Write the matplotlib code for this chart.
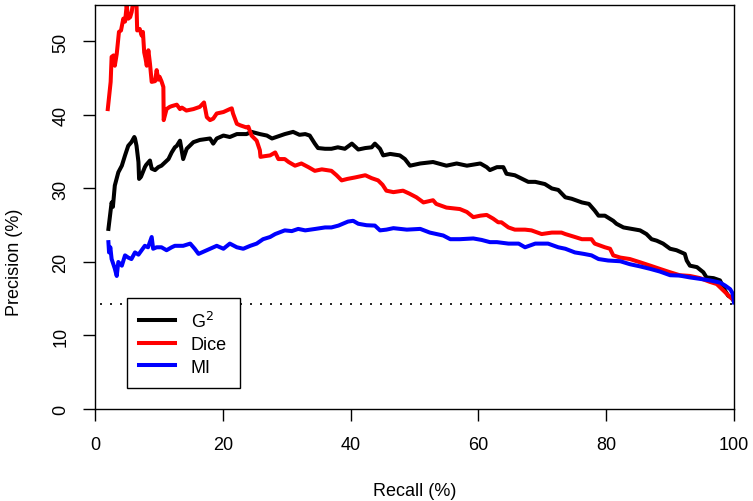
import matplotlib
matplotlib.use("Agg")
import matplotlib.pyplot as plt
from matplotlib.lines import Line2D

plt.rcParams['font.family'] = ['Liberation Sans', 'DejaVu Sans']

g2_recall = [2.1, 2.35, 2.6, 2.8, 3.1, 3.65, 4.2, 4.7, 5.2, 5.7, 6.15, 6.26, 6.5, 6.8, 6.9, 7.2, 7.8, 8.0,
             8.6, 8.87, 9.4, 9.9, 10.4, 11.5, 12.0, 12.5, 12.8, 13.3, 13.8, 14.35, 15.4, 16.4, 18.0, 18.5,
             19.05, 20.1, 21.1, 22.2, 23.7, 24.5, 25.8, 26.9, 27.7, 29.7, 31.0, 32.0, 32.9, 33.6, 34.4,
             34.9, 36.0, 37.0, 38.0, 39.1, 40.2, 41.2, 42.3, 43.3, 43.8, 44.6, 45.1, 46.2, 47.7, 48.5,
             49.3, 50.9, 52.9, 55.0, 56.6, 58.2, 60.3, 61.3, 61.8, 62.9, 63.9, 64.4, 65.7, 67.8, 68.9,
             70.4, 71.5, 72.5, 73.6, 74.6, 76.2, 77.3, 78.2, 78.8, 79.8, 81.1, 81.6, 82.7, 85.3, 86.3,
             87.1, 87.9, 88.9, 90.0, 91.0, 92.3, 92.6, 93.1, 94.2, 95.2, 95.7, 96.8, 97.8, 98.6, 99.1,
             99.6, 100.0]
g2_prec = [24.5, 26.3, 28.1, 27.5, 30.4, 32.2, 33.1, 34.5, 35.8, 36.3, 37.0, 36.8, 35.8, 33.6, 31.3, 31.6,
           32.9, 33.2, 33.8, 32.7, 32.5, 32.9, 33.1, 34.0, 34.9, 35.6, 35.8, 36.5, 34.0, 35.4, 36.3, 36.6,
           36.8, 36.1, 36.8, 37.2, 37.0, 37.4, 37.4, 37.7, 37.4, 37.2, 36.8, 37.4, 37.7, 37.3, 37.4, 37.2,
           36.1, 35.5, 35.4, 35.4, 35.6, 35.4, 36.1, 35.3, 35.5, 35.6, 36.1, 35.4, 34.5, 34.7, 34.5, 34.0,
           33.1, 33.4, 33.6, 33.1, 33.4, 33.1, 33.4, 32.9, 32.5, 32.9, 32.9, 32.0, 31.8, 30.9, 30.9, 30.6,
           30.0, 29.8, 28.8, 28.6, 28.1, 27.9, 27.0, 26.3, 26.3, 25.6, 25.2, 24.7, 24.3, 23.8, 23.1, 22.9,
           22.5, 21.8, 21.6, 21.1, 20.2, 19.5, 19.3, 18.6, 17.9, 17.8, 17.5, 16.1, 15.4, 15.2, 14.6]

dice_recall = [2.0, 2.45, 2.6, 2.9, 3.1, 3.4, 3.75, 4.07, 4.43, 4.7, 4.96, 5.2, 5.5, 5.74, 6.0, 6.2, 6.5,
               6.6, 7.0, 7.3, 7.5, 7.7, 7.9, 8.1, 8.35, 8.6, 8.87, 9.4, 9.65, 9.9, 10.1, 10.4, 10.7, 10.75,
               10.9, 11.2, 11.7, 12.0, 12.8, 13.3, 13.6, 14.3, 15.4, 16.4, 17.06, 17.5, 18.0, 18.5, 19.05,
               20.1, 21.1, 21.4, 21.6, 22.2, 22.7, 23.7, 24.0, 24.5, 25.3, 25.8, 25.9, 26.6, 27.4, 28.2,
               28.7, 29.7, 30.3, 31.3, 32.3, 33.4, 34.4, 35.5, 37.0, 37.8, 38.6, 39.5, 40.7, 42.3, 43.3,
               44.3, 45.0, 45.6, 46.7, 48.2, 49.2, 50.3, 51.4, 52.9, 53.4, 55.0, 57.1, 58.2, 59.2, 60.3,
               61.3, 62.3, 63.1, 63.6, 64.7, 65.7, 67.3, 68.3, 69.9, 71.5, 73.0, 73.6, 75.1, 76.2, 77.7,
               78.2, 79.8, 80.6, 81.1, 82.2, 83.7, 85.3, 86.9, 88.4, 90.0, 91.5, 93.1, 94.7, 96.2, 97.3,
               98.6, 99.4, 100.0]
dice_prec = [40.8, 44.5, 47.9, 48.1, 46.7, 48.3, 51.3, 51.5, 53.1, 52.7, 54.9, 53.1, 53.3, 54.0, 55.5,
             55.8, 54.9, 51.5, 51.7, 50.8, 51.3, 48.5, 47.7, 46.7, 48.8, 47.0, 44.5, 44.6, 46.1, 44.8, 45.2,
             44.6, 43.8, 39.3, 39.8, 40.8, 41.1, 41.2, 41.4, 40.8, 41.0, 40.6, 40.8, 41.1, 41.7, 39.7, 39.3,
             39.5, 40.2, 40.4, 40.8, 40.9, 40.2, 38.8, 38.6, 38.3, 38.4, 37.2, 36.5, 35.2, 34.3, 34.4, 34.5,
             34.9, 34.0, 34.0, 33.6, 33.1, 33.4, 32.9, 32.4, 32.6, 32.4, 31.8, 31.1, 31.3, 31.5, 31.8, 31.4,
             31.1, 30.5, 29.7, 29.5, 29.7, 29.3, 28.8, 28.1, 28.4, 27.9, 27.4, 27.2, 26.8, 26.1, 26.3, 26.4,
             25.9, 25.4, 25.4, 24.7, 24.4, 24.4, 24.3, 23.8, 24.0, 24.0, 23.8, 23.4, 23.1, 23.1, 22.5, 22.0,
             21.8, 20.9, 20.6, 20.4, 19.96, 19.5, 19.06, 18.6, 18.2, 18.1, 17.8, 17.3, 17.0, 15.9, 15.2, 14.8]

mi_recall = [2.1, 2.2, 2.4, 2.6, 3.1, 3.4, 3.65, 4.2, 4.7, 5.2, 5.7, 6.26, 6.8, 7.3, 7.8, 8.3, 8.87, 9.1,
             9.65, 10.4, 11.2, 12.0, 12.5, 13.8, 14.9, 15.6, 16.2, 17.5, 19.05, 20.1, 21.1, 22.2, 23.2,
             24.3, 25.3, 26.3, 27.4, 28.2, 29.7, 30.8, 31.8, 32.9, 34.5, 36.0, 37.0, 38.1, 39.6, 40.4,
             41.2, 42.5, 43.8, 44.6, 45.6, 46.7, 48.8, 50.9, 52.4, 54.5, 55.6, 57.1, 59.2, 60.5, 61.8,
             62.9, 64.7, 66.3, 67.3, 68.9, 70.9, 72.5, 73.6, 75.1, 76.5, 77.7, 78.8, 80.3, 82.2, 83.7,
             85.3, 86.9, 88.4, 90.0, 91.5, 93.1, 94.7, 96.2, 97.8, 98.6, 99.4, 99.8, 100.0]
mi_prec = [22.7, 21.3, 22.0, 20.4, 19.1, 18.1, 20.0, 19.5, 20.9, 20.6, 20.4, 21.3, 21.0, 21.6, 22.2, 22.0,
           23.4, 21.8, 22.0, 22.0, 21.6, 22.0, 22.2, 22.2, 22.5, 21.8, 21.1, 21.6, 22.2, 21.8, 22.5, 22.0,
           21.8, 22.2, 22.5, 23.1, 23.4, 23.8, 24.3, 24.2, 24.5, 24.3, 24.5, 24.7, 24.7, 24.95, 25.5, 25.6,
           25.2, 25.0, 24.95, 24.3, 24.4, 24.6, 24.4, 24.5, 24.0, 23.6, 23.1, 23.1, 23.2, 23.0, 22.7, 22.7,
           22.5, 22.5, 22.0, 22.5, 22.5, 22.0, 21.8, 21.3, 21.1, 20.9, 20.4, 20.2, 20.1, 19.7, 19.4, 19.06,
           18.7, 18.2, 18.15, 17.9, 17.7, 17.5, 17.2, 16.8, 16.3, 15.7, 14.5]

baseline = 14.3
x_ticks = [0, 20, 40, 60, 80, 100]
y_ticks = [0, 10, 20, 30, 40, 50]
series_names = ["G$^2$", "Dice", "MI"]
series_colors = ["black", "red", "blue"]

W, H = 753, 502
fig = plt.figure(figsize=(W / 100, H / 100), dpi=100)
ax = fig.add_axes([95 / W, (H - 410) / H, (734 - 95) / W, (410 - 5.7) / H])

lw = 2.9
ax.plot(g2_recall, g2_prec, color=series_colors[0], lw=lw, solid_joinstyle='round')
ax.plot(dice_recall, dice_prec, color=series_colors[1], lw=lw, solid_joinstyle='round')
ax.plot(mi_recall, mi_prec, color=series_colors[2], lw=lw, solid_joinstyle='round')
ax.axhline(baseline, color='black', lw=1.2, linestyle=(3, (1.2, 4.8)))

ax.set_xlim(0, 100)
ax.set_ylim(0, 55)
ax.set_xticks(x_ticks)
ax.set_yticks(y_ticks)
ax.set_xticklabels([str(v) for v in x_ticks])
ax.set_yticklabels([str(v) for v in y_ticks], rotation=90, va='center')
ax.tick_params(axis='both', length=8.5, width=1.0, labelsize=13, color='black')
ax.tick_params(axis='x', pad=11)
ax.tick_params(axis='y', pad=10)
for sp in ax.spines.values():
    sp.set_linewidth(1.0)
    sp.set_color('black')

fig.text(15 / W, 1 - 262 / H, "Precision (%)", rotation=90, ha='center', va='center', fontsize=13)
fig.text((95 + 734) / 2 / W, 1 - 492 / H, "Recall (%)", ha='center', va='center', fontsize=13)

handles = [Line2D([0], [0], color=c, lw=lw) for c in series_colors]
leg = ax.legend(handles, series_names, loc='upper left',
                bbox_to_anchor=((126.7 - 95) / 639, (410 - 299) / 404.3),
                frameon=True, fancybox=False, framealpha=1, edgecolor='black',
                fontsize=13, handlelength=2.0, handletextpad=0.85, borderpad=0.7,
                labelspacing=0.3, borderaxespad=0.0)
leg.get_frame().set_linewidth(1.0)

fig.savefig("out.png", dpi=100)
